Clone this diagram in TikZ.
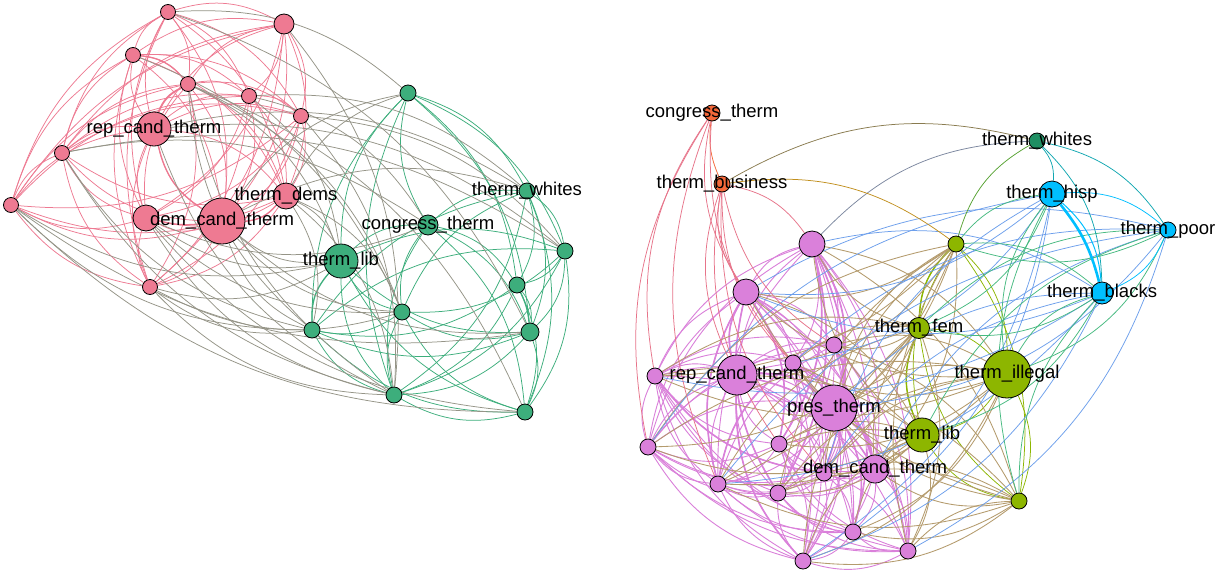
\documentclass[tikz,border=0pt]{standalone}
\usepackage{fontspec}
\setmainfont{Liberation Sans}
\usetikzlibrary{backgrounds,calc}
\pgfdeclarelayer{edges}
\pgfsetlayers{background,edges,main}
\definecolor{lpink}{HTML}{EE7A92}
\definecolor{lgreen}{HTML}{3DAE7C}
\definecolor{viol}{HTML}{DA80DA}
\definecolor{oliv}{HTML}{8DB600}
\definecolor{cyanA}{HTML}{00BFFF}
\definecolor{tealA}{HTML}{1F8F63}
\definecolor{orngA}{HTML}{F4683A}
\tikzset{
 vx/.style={circle,draw=black,line width=0.8pt,inner sep=0pt},
 ed/.style={line width=0.75pt},
 thk/.style={line width=1.8pt},
 lab/.style={font=\fontsize{18.5}{20}\selectfont, text=black, inner sep=0pt}
}
\def\ctr{cL}
% edge bowing away from the point \ctr, #4 = bend angle
\newcommand\EE[4]{\draw[ed,#3] let \p1=(#1), \p2=(#2), \p3=(\ctr),
  \n1={#4-2*#4*((((\x2-\x1)/100)*((\y3-\y1)/100)-((\y2-\y1)/100)*((\x3-\x1)/100))>0)}
  in (#1) to[bend left=\n1] (#2);}
% edge with given signed bend
\newcommand\ER[4]{\draw[ed,#3] (#1) to[bend left=#4] (#2);}
\begin{document}
\begin{tikzpicture}[x=1pt,y=-1pt]
\begin{pgfonlayer}{background}
\fill[white] (0,0) rectangle (1221,571);
\end{pgfonlayer}
\useasboundingbox (0,0) rectangle (1221,571);
\coordinate (cL) at (290,220);
\coordinate (cP) at (175,140);
\coordinate (cG) at (450,290);
\coordinate (cV) at (775,430);
\coordinate (cO) at (960,380);
\coordinate (cR) at (900,390);
% ---------- left graph nodes ----------
\foreach \n/\x/\y/\r in {a1/168/12/7.5, a2/284/24/10, a3/133/55/7.5, a4/188/84/7.5, a5/249/96/7.5,
  a6/301/116/7.5, a7/154/129/17, a8/62/153/7.5, a9/11/205/7.5, a10/286/196/13, a11/146/218/13,
  a12/222/221/23, a13/150/287/7.5}
  {\node[vx,fill=lpink,minimum size=2*\r] (\n) at (\x,\y) {};}
\foreach \n/\x/\y/\r in {b1/408/93/8, b2/527/191/8, b3/428/225/10, b4/341/261/17, b5/565/251/8,
  b6/517/285/8, b7/402/312/8, b8/312/330/8, b9/530/332/9, b10/394/395/8, b11/525/412/8}
  {\node[vx,fill=lgreen,minimum size=2*\r] (\n) at (\x,\y) {};}
% ---------- right graph nodes ----------
\foreach \n/\x/\y/\r in {r1/712/113/8, r2/722/184/8}
  {\node[vx,fill=orngA,minimum size=2*\r] (\n) at (\x,\y) {};}
\node[vx,fill=tealA,minimum size=16] (w1) at (1037,141) {};
\foreach \n/\x/\y/\r in {c1/1052/194/13, c2/1168/230/8, c3/1102/293/11}
  {\node[vx,fill=cyanA,minimum size=2*\r] (\n) at (\x,\y) {};}
\foreach \n/\x/\y/\r in {o1/956/244/8, o2/919/328/10.5, o3/1007/374/24, o4/922/435/17, o5/1019/501/8}
  {\node[vx,fill=oliv,minimum size=2*\r] (\n) at (\x,\y) {};}
\foreach \n/\x/\y/\r in {v1/812/244/13, v2/746/292/13, v3/834/345/8, v4/793/363/8, v5/737/375/20,
  v6/655/376/8, v7/834/408/23, v8/779/444/8, v9/648/447/8, v10/875/469/14, v11/824/473/8,
  v12/718/484/8, v13/778/493/8, v14/853/532/8, v15/908/551/8, v16/803/561/8}
  {\node[vx,fill=viol,minimum size=2*\r] (\n) at (\x,\y) {};}
% ---------- edges ----------
\begin{pgfonlayer}{edges}
% left pink community
\def\ctr{cP}
\foreach \i in {1,...,12}{
  \pgfmathtruncatemacro\k{\i+1}
  \foreach \j in {\k,...,13}{\EE{a\i}{a\j}{lpink}{22}}}
\EE{a4}{a7}{lpink,thk}{22}
\EE{a7}{a12}{lpink,line width=1.3pt}{22}
\EE{a10}{a12}{lpink,line width=1.3pt}{22}
\EE{a3}{a4}{lpink,line width=1.3pt}{22}
\EE{a11}{a12}{lpink,line width=1.5pt}{10}
% left green community
\def\ctr{cG}
\foreach \i in {1,...,10}{
  \pgfmathtruncatemacro\k{\i+1}
  \foreach \j in {\k,...,11}{
    \pgfmathtruncatemacro\h{mod(\i*31+\j*17+\i*\j*7,100)}
    \ifnum\h<80 \EE{b\i}{b\j}{lgreen}{22}\fi}}
\EE{b4}{b8}{lgreen,line width=1.3pt}{22}
\EE{b6}{b9}{lgreen,line width=1.3pt}{10}
% left between
\def\ctr{cL}
\foreach \i/\wi in {1/25,2/35,3/25,4/30,5/35,6/40,7/70,8/45,9/45,10/75,11/70,12/85,13/70}{
  \foreach \j/\wj in {1/45,2/15,3/35,4/90,5/20,6/25,7/60,8/85,9/20,10/80,11/20}{
    \pgfmathtruncatemacro\h{mod(\i*37+\j*53+\i*\j*11,100)}
    \pgfmathtruncatemacro\t{(\wi*\wj)/100+14}
    \ifnum\h<\t \EE{a\i}{b\j}{lpink!50!lgreen}{22}\fi}}
% right violet community
\def\ctr{cV}
\foreach \i in {1,...,15}{
  \pgfmathtruncatemacro\k{\i+1}
  \foreach \j in {\k,...,16}{\EE{v\i}{v\j}{viol,line width=0.9pt}{22}}}
\foreach \a/\b in {v2/v5, v5/v7, v7/v10, v1/v7, v3/v7, v5/v10, v2/v8, v1/v13, v4/v12, v6/v11, v2/v13, v1/v11, v5/v16, v7/v14, v2/v12, v1/v8, v4/v10}
  {\EE{\a}{\b}{viol,line width=1.6pt}{22}}
% olive community
\def\ctr{cO}
\foreach \i in {1,...,4}{
  \pgfmathtruncatemacro\k{\i+1}
  \foreach \j in {\k,...,5}{\EE{o\i}{o\j}{oliv}{22}}}
\EE{o2}{o4}{oliv,line width=1.4pt}{22}
\EE{o1}{o2}{oliv,line width=1.4pt}{22}
% violet - olive
\foreach \i in {1,...,16}{
  \foreach \j in {1,...,5}{
    \pgfmathtruncatemacro\h{mod(\i*41+\j*29+\i*\j*13,100)}
    \pgfmathtruncatemacro\s{22-44*mod(\i*5+\j*3,2)}
    \ifnum\h<80 \ER{v\i}{o\j}{viol!50!oliv,line width=0.85pt}{\s}\fi}}
% violet - cyan
\foreach \i in {1,...,16}{
  \foreach \j in {1,...,3}{
    \pgfmathtruncatemacro\h{mod(\i*23+\j*47+\i*\j*19,100)}
    \pgfmathtruncatemacro\s{22-44*mod(\i*3+\j,2)}
    \ifnum\h<40 \ER{v\i}{c\j}{viol!50!cyanA}{\s}\fi}}
% olive - cyan
\foreach \i in {1,...,5}{
  \foreach \j in {1,...,3}{
    \pgfmathtruncatemacro\h{mod(\i*13+\j*7,10)}
    \pgfmathtruncatemacro\s{22-44*mod(\i+\j,2)}
    \ifnum\h<8 \ER{o\i}{c\j}{oliv!50!cyanA}{\s}\fi}}
% cyan community
\def\ctr{cR}
\EE{c1}{c2}{cyanA}{22}
\EE{c2}{c3}{cyanA}{22}
\ER{c1}{c3}{cyanA,line width=2.6pt}{12}
\ER{c1}{c3}{cyanA,line width=1pt}{22}
% whites
\foreach \j in {c1,c2,c3}{\EE{w1}{\j}{tealA!50!cyanA}{22}}
\EE{r2}{w1}{tealA!50!orngA}{22}
\EE{v1}{w1}{tealA!50!viol}{22}
\EE{o1}{w1}{tealA!50!oliv}{22}
% orange
\EE{r1}{r2}{orngA}{15}
\foreach \j in {v2,v6,v9,v4,v12}{\EE{\j}{r1}{orngA!50!viol}{22}}
\foreach \j in {v1,v2,v3,v4,v5,v8,v11}{\EE{r2}{\j}{orngA!50!viol}{22}}
\EE{r2}{o1}{orngA!50!oliv}{22}
\end{pgfonlayer}
% ---------- labels ----------
\node[lab] at (a7) {rep\_cand\_therm};
\node[lab] at (a10) {therm\_dems};
\node[lab] at (a12) {dem\_cand\_therm};
\node[lab] at (b2) {therm\_whites};
\node[lab] at (b3) {congress\_therm};
\node[lab] at (b4) {therm\_lib};
\node[lab] at (r1) {congress\_therm};
\node[lab] at (r2) {therm\_business};
\node[lab] at (w1) {therm\_whites};
\node[lab] at (c1) {therm\_hisp};
\node[lab] at (c2) {therm\_poor};
\node[lab] at (c3) {therm\_blacks};
\node[lab] at (o2) {therm\_fem};
\node[lab] at (o3) {therm\_illegal};
\node[lab] at (o4) {therm\_lib};
\node[lab] at (v5) {rep\_cand\_therm};
\node[lab] at (v7) {pres\_therm};
\node[lab] at (v10) {dem\_cand\_therm};
\end{tikzpicture}
\end{document}
